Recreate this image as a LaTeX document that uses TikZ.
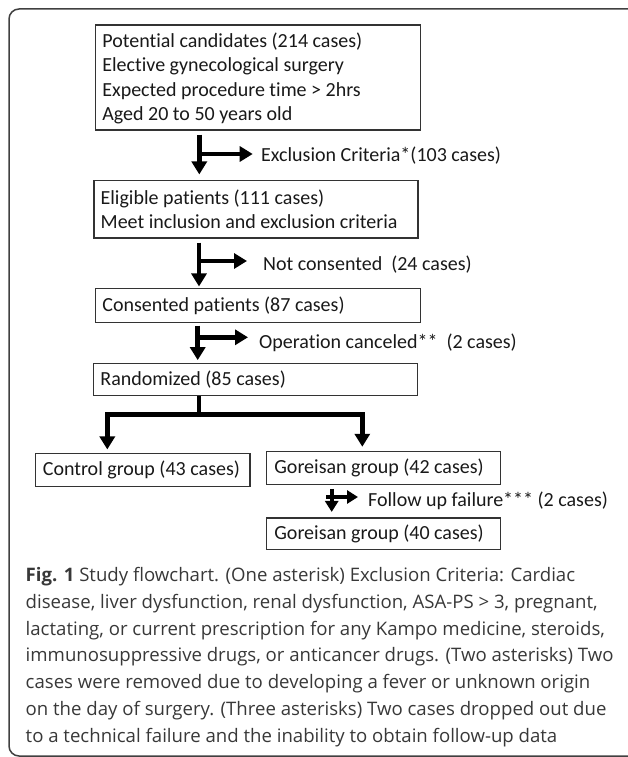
\documentclass[tikz,border=0pt]{standalone}
\usepackage{fontspec}
\setmainfont{Carlito}[Ligatures=NoCommon]
\newfontfamily\capfont{Open Sans}
\usetikzlibrary{arrows.meta}
\tikzset{
  boxframe/.style={draw=black!80, line width=1.1pt, inner sep=0pt},
  boxtext/.style={anchor=west, align=left, inner sep=0pt, text=black!90,
    font=\fontsize{20}{24.4}\selectfont},
  lbl/.style={anchor=west, inner sep=0pt, text=black!90,
    font=\fontsize{20}{24}\selectfont},
  flow/.style={line width=4.5pt, -{Triangle[width=15pt,length=13pt]}},
  flowsmall/.style={line width=4pt, -{Triangle[width=13pt,length=11pt]}},
  stem/.style={line width=4.5pt},
  capline/.style={anchor=west, inner sep=0pt, text=black!78,
    font=\capfont\fontsize{18.6}{26.7}\selectfont},
  outerframe/.style={draw=black!75, line width=1.5pt, rounded corners=10pt}
}
\begin{document}
\begin{tikzpicture}[x=1pt,y=-1pt]
\useasboundingbox (0,0) rectangle (627,757);
\draw[outerframe] (9,9) rectangle (700,756);

% box frames
\node[boxframe, minimum width=325pt, minimum height=105pt] (b1) at (258.2,77.5) {};
\node[boxframe, minimum width=324pt, minimum height=57.3pt] (b2) at (256,209.35) {};
\node[boxframe, minimum width=324.3pt, minimum height=34pt] (b3) at (257.9,305.3) {};
\node[boxframe, minimum width=324pt, minimum height=32.4pt] (b4) at (255.3,379.5) {};
\node[boxframe, minimum width=214.3pt, minimum height=33.4pt] (ctl) at (142.85,470) {};
\node[boxframe, minimum width=234pt, minimum height=32.6pt] (g42) at (383.7,468) {};
\node[boxframe, minimum width=234pt, minimum height=31.5pt] (g40) at (383.7,533.75) {};

% box texts
\node[boxtext] (t1) at ([xshift=7pt,yshift=-0.8pt]b1.west)
  {Potential candidates (214 cases)\\Elective gynecological surgery\\Expected procedure time > 2hrs\\Aged 20 to 50 years old};
\node[boxtext] (t2) at ([xshift=7pt]b2.west)
  {Eligible patients (111 cases)\\Meet inclusion and exclusion criteria};
\node[boxtext] (t3) at ([xshift=7pt]b3.west) {Consented patients (87 cases)};
\node[boxtext] (t4) at ([xshift=7.5pt]b4.west) {Randomized (85 cases)};
\node[boxtext] (t5) at ([xshift=7.5pt]ctl.west) {Control group (43 cases)};
\node[boxtext] (t6) at ([xshift=8pt]g42.west) {Goreisan group (42 cases)};
\node[boxtext] (t7) at ([xshift=8pt]g40.west) {Goreisan group (40 cases)};

% side labels
\node[lbl] (ex) at (261,156) {Exclusion Criteria*(103 cases)};
\node[lbl] (nc) at (263,265) {Not consented\ \ (24 cases)};
\node[lbl] (oc) at (259,342.3) {Operation canceled**\ \ (2 cases)};
\node[lbl] (fu) at (368,500.7) {Follow up failure*** (2 cases)};

% junction points
\coordinate (j1) at (199.3,154);
\coordinate (j2) at (199,261);
\coordinate (j3) at (197.7,337.3);
\coordinate (s) at (199,414.3);
\coordinate (sL) at (107.3,414.3);
\coordinate (sR) at (362.3,414.3);
\coordinate (j4v) at (331.7,497);
\coordinate (j4) at (326,497);

% step 1
\draw[flow, shorten <=4pt, shorten >=5.7pt] (b1.south -| j1) -- (b2.north -| j1);
\draw[flow, shorten >=8.3pt] (j1) -- (ex.west |- j1);
% step 2
\draw[flow, shorten <=4pt, shorten >=1.3pt] (b2.south -| j2) -- (b3.north -| j2);
\draw[flow, shorten >=16pt] (j2) -- (nc.west |- j2);
% step 3
\draw[flow, shorten <=2.7pt, shorten >=2.6pt] (b3.south -| j3) -- (b4.north -| j3);
\draw[flow, shorten >=11pt] (j3) -- (oc.west |- j3);
% randomisation split
\draw[stem] (b4.south -| s) -- (s);
\draw[flow, shorten >=3.3pt] (s) -- (sL) -- (ctl.north -| sL);
\draw[flow, shorten >=4.4pt] (s) -- (sR) -- (g42.north -| sR);
% follow up
\draw[flowsmall, shorten <=4pt, shorten >=5.5pt] (g42.south -| j4v) -- (g40.north -| j4v);
\draw[flowsmall, shorten >=10pt] (j4) -- (fu.west |- j4);

% caption
\node[capline] (c1) at (25.5,577) {\textbf{Fig. 1} Study flowchart. (One asterisk) Exclusion Criteria: Cardiac};
\node[capline] (c2) at (25.5,603.7) {disease, liver dysfunction, renal dysfunction, ASA-PS > 3, pregnant,};
\node[capline] (c3) at (25.5,630.4) {lactating, or current prescription for any Kampo medicine, steroids,};
\node[capline] (c4) at (25.5,657.1) {immunosuppressive drugs, or anticancer drugs. (Two asterisks) Two};
\node[capline] (c5) at (25.5,683.8) {cases were removed due to developing a fever or unknown origin};
\node[capline] (c6) at (25.5,710.5) {on the day of surgery. (Three asterisks) Two cases dropped out due};
\node[capline] (c7) at (25.5,737.2) {to a technical failure and the inability to obtain follow-up data};
\end{tikzpicture}
\end{document}
